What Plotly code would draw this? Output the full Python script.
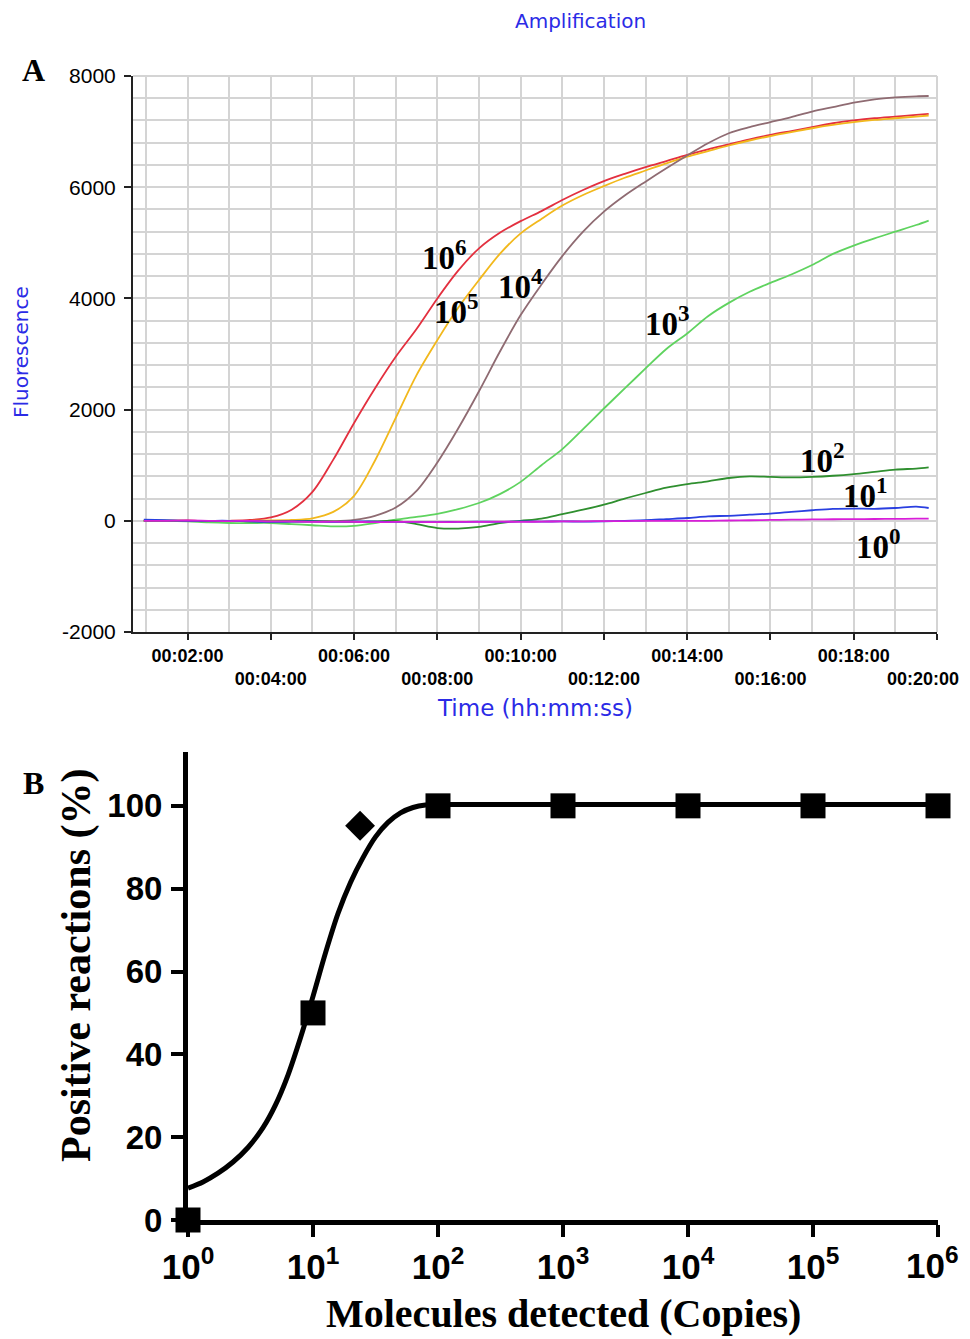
import plotly.graph_objects as go

# page is shown with an 8px body margin, so the figure is placed at (8, 8)
OFF = 8
W, H = 970 - OFF, 1339 - OFF
RIGHT_EDGE = 961  # last visible pixel column used for edge labels


def fx(px):
    return (px - OFF) / W


def fy(py):
    return 1 - (py - OFF) / H


# ---------------- Panel A data (time in minutes, fluorescence) ----------------
time_min = [0.95, 1.5, 2, 2.5, 3, 3.5, 4, 4.5, 5, 5.5, 6, 6.5, 7, 7.5, 8, 8.5, 9, 9.5,
            10, 10.5, 11, 11.5, 12, 12.5, 13, 13.5, 14, 14.5, 15, 15.5, 16, 16.5, 17,
            17.5, 18, 18.5, 19, 19.5, 19.8]

fl_1e6 = [10, 0, 5, -5, 0, 15, 60, 200, 520, 1100, 1760, 2380, 2950, 3450, 4000, 4500,
          4900, 5180, 5390, 5570, 5770, 5950, 6110, 6240, 6360, 6470, 6580, 6680, 6770,
          6860, 6940, 7010, 7080, 7150, 7200, 7240, 7270, 7300, 7320]
fl_1e5 = [0, 5, 0, 0, -5, 0, 5, 15, 45, 160, 450, 1080, 1850, 2620, 3250, 3830, 4330,
          4800, 5170, 5430, 5670, 5860, 6020, 6170, 6300, 6430, 6550, 6650, 6750, 6840,
          6920, 6990, 7060, 7120, 7170, 7210, 7240, 7270, 7290]
fl_1e4 = [0, 0, -5, 0, -10, -5, -10, -15, -15, -10, 15, 90, 240, 540, 1050, 1660, 2330,
          3040, 3700, 4250, 4760, 5200, 5560, 5850, 6100, 6340, 6570, 6790, 6970, 7080,
          7170, 7260, 7360, 7440, 7520, 7580, 7615, 7635, 7640]
fl_1e3 = [0, 0, -10, -30, -40, -40, -40, -60, -80, -100, -90, -40, 20, 70, 126, 210,
          320, 480, 700, 1000, 1290, 1650, 2020, 2380, 2740, 3090, 3370, 3680, 3920,
          4120, 4280, 4430, 4600, 4800, 4950, 5080, 5200, 5320, 5400]
fl_1e2 = [0, 0, 0, -5, 0, -10, -10, -5, 0, -10, -20, -10, 0, -60, -130, -140, -110,
          -40, 0, 40, 120, 200, 290, 400, 500, 595, 660, 710, 770, 800, 790, 780, 790,
          810, 840, 880, 920, 940, 960]
fl_1e1 = [20, 10, 0, 0, 0, -10, -20, -15, -10, -20, -10, -15, -20, -20, -25, -20, -15,
          -20, -10, -15, -10, -15, -10, 0, 10, 30, 50, 80, 90, 110, 130, 160, 190, 215,
          220, 215, 230, 255, 230]
fl_1e0 = [0, 0, 5, 0, -5, 0, -10, -10, -20, -15, -20, -25, -20, -20, -25, -20, -20,
          -15, -20, -15, -10, -10, -5, -5, 0, 0, 0, 0, 5, 10, 15, 20, 25, 28, 30, 32,
          35, 38, 40]

series_names = ["10^6", "10^5", "10^4", "10^3", "10^2", "10^1", "10^0"]
series_vals = [fl_1e6, fl_1e5, fl_1e4, fl_1e3, fl_1e2, fl_1e1, fl_1e0]
series_colors = ["#e3303f", "#f2b81c", "#8f6b72", "#5fd35f", "#2f8f2f", "#2a3fe0", "#d81ed8"]

label_text = ["10<sup>6</sup>", "10<sup>5</sup>", "10<sup>4</sup>", "10<sup>3</sup>",
              "10<sup>2</sup>", "10<sup>1</sup>", "10<sup>0</sup>"]
label_t = [8.18, 8.47, 9.99, 13.52, 17.25, 18.28, 18.59]
label_v = [4775, 3802, 4253, 3586, 1135, 505, -414]

time_ticks = [2, 4, 6, 8, 10, 12, 14, 16, 18, 20]
time_tick_text = ["00:02:00", "00:04:00", "00:06:00", "00:08:00", "00:10:00",
                  "00:12:00", "00:14:00", "00:16:00", "00:18:00", "00:20:00"]
fl_ticks = [-2000, 0, 2000, 4000, 6000, 8000]
fl_tick_text = ["-2000", "0", "2000", "4000", "6000", "8000"]

# ---------------- Panel B data ----------------
copies = [1, 10, 100, 1000, 10000, 100000, 1000000]
positive_pct = [0, 50, 100, 100, 100, 100, 100]
diamond_copies = [23.8]
diamond_pct = [95.2]
fit_log_copies = [0.0, 0.12, 0.24, 0.36, 0.48, 0.60, 0.70, 0.80, 0.90, 1.00, 1.10,
                  1.20, 1.30, 1.40, 1.50, 1.60, 1.70, 1.80, 1.90, 2.0, 3.0, 4.0, 5.0, 6.0]
fit_pct = [7.7, 9.2, 11.3, 14.0, 17.5, 22.3, 27.8, 35.0, 44.0, 54.0, 64.5, 74.0, 81.5,
           87.5, 92.5, 96.0, 98.3, 99.6, 100.2, 100.3, 100.3, 100.3, 100.3, 100.3]
b_xticks = [1, 10, 100, 1000, 10000, 100000, 1000000]
b_xtick_text = ["10<sup>%d</sup>" % i for i in range(7)]
b_yticks = [0, 20, 40, 60, 80, 100]

fig = go.Figure()

for name, vals, col in zip(series_names, series_vals, series_colors):
    fig.add_trace(go.Scatter(x=time_min, y=vals, mode="lines", name=name,
                             line=dict(color=col, width=1.8, shape="spline", smoothing=0.9),
                             xaxis="x", yaxis="y", showlegend=False))

fig.add_trace(go.Scatter(x=[10 ** v for v in fit_log_copies], y=fit_pct, mode="lines",
                         line=dict(color="black", width=5, shape="spline", smoothing=0.8),
                         xaxis="x2", yaxis="y2", showlegend=False, cliponaxis=False))
fig.add_trace(go.Scatter(x=copies, y=positive_pct, mode="markers",
                         marker=dict(symbol="square", size=25, color="black"),
                         xaxis="x2", yaxis="y2", showlegend=False, cliponaxis=False))
fig.add_trace(go.Scatter(x=diamond_copies, y=diamond_pct, mode="markers",
                         marker=dict(symbol="diamond", size=23, color="black"),
                         xaxis="x2", yaxis="y2", showlegend=False, cliponaxis=False))

grid_col = "#d4d4d4"
# alternate rows of time labels; the last one (at the right edge) is drawn as an annotation
ticktext_alt = [t if i % 2 == 0 else "<br>" + t for i, t in enumerate(time_tick_text)]
ticktext_alt[-1] = ""
b_ticktext_axis = list(b_xtick_text)
b_ticktext_axis[-1] = ""

tick_font_a = dict(family="Liberation Sans", size=18, color="black", weight="bold")

fig.update_layout(
    width=W, height=H, margin=dict(l=0, r=0, t=0, b=0, autoexpand=False),
    paper_bgcolor="white", plot_bgcolor="white",
    xaxis=dict(domain=[fx(133), fx(937)], range=[0.69, 20], anchor="y", automargin=False,
               tickmode="array", tickvals=time_ticks, ticktext=ticktext_alt,
               ticklabeloverflow="allow",
               ticks="outside", ticklen=6, tickwidth=2, tickcolor="#222",
               showline=True, linecolor="#222", linewidth=2,
               showgrid=True, gridcolor=grid_col, gridwidth=1.5, zeroline=False,
               minor=dict(tickmode="array", tickvals=list(range(1, 20)), showgrid=True,
                          gridcolor=grid_col, gridwidth=1.5, ticks=""),
               tickfont=tick_font_a),
    yaxis=dict(domain=[fy(632), fy(76)], range=[-2000, 8000], anchor="x",
               automargin=False, ticklabeloverflow="allow",
               tickmode="array", tickvals=fl_ticks, ticktext=fl_tick_text,
               ticks="outside", ticklen=7, tickwidth=2, tickcolor="#222",
               showline=True, linecolor="#222", linewidth=2,
               showgrid=True, gridcolor=grid_col, gridwidth=1.5, zeroline=False,
               minor=dict(dtick=400, tick0=0, showgrid=True, gridcolor=grid_col,
                          gridwidth=1.5, ticks=""),
               ticklabelstandoff=4,
               tickfont=dict(family="Liberation Sans", size=21, color="black")),
    xaxis2=dict(domain=[fx(188), fx(938)], type="log", range=[0, 6], anchor="y2",
                automargin=False, ticklabeloverflow="allow",
                tickmode="array", tickvals=b_xticks, ticktext=b_ticktext_axis,
                ticks="outside", ticklen=12, tickwidth=4, tickcolor="black",
                showline=True, linecolor="black", linewidth=5,
                showgrid=False, zeroline=False,
                tickfont=dict(family="Liberation Sans", size=35, color="black", weight="bold")),
    yaxis2=dict(domain=[fy(1220), fy(752)], range=[0, 113], anchor="x2",
                automargin=False, ticklabeloverflow="allow",
                tickmode="array", tickvals=b_yticks,
                ticks="outside", ticklen=12, tickwidth=4, tickcolor="black",
                showline=True, linecolor="black", linewidth=5,
                showgrid=False, zeroline=False, ticklabelstandoff=2,
                tickfont=dict(family="Liberation Sans", size=33, color="black", weight="bold")),
)

# light border on top/right of panel A
fig.add_shape(type="line", xref="x domain", yref="y domain", x0=0, x1=1, y0=1, y1=1,
              line=dict(color=grid_col, width=2))
fig.add_shape(type="line", xref="x domain", yref="y domain", x0=1, x1=1, y0=0, y1=1,
              line=dict(color=grid_col, width=2))

# curve labels panel A
for txt, tx, vy in zip(label_text, label_t, label_v):
    fig.add_annotation(x=tx, y=vy, xref="x", yref="y", text=txt, showarrow=False,
                       font=dict(family="Liberation Serif", size=33, color="black", weight="bold"))


def pa(text, px, py, size, color="black", family="Liberation Sans", angle=0, weight="normal",
       xanchor="center"):
    fig.add_annotation(x=fx(px), y=fy(py), xref="paper", yref="paper", text=text,
                       showarrow=False, textangle=angle,
                       font=dict(family=family, size=size, color=color, weight=weight),
                       xanchor=xanchor, yanchor="middle")


blue = "#2b2be6"
pa(time_tick_text[-1], RIGHT_EDGE, 679, 18, "black", "Liberation Sans", weight="bold",
   xanchor="right")
pa(b_xtick_text[-1], RIGHT_EDGE, 1263, 35, "black", "Liberation Sans", weight="bold",
   xanchor="right")
pa("Amplification", 580, 21, 20, blue, "DejaVu Sans")
pa("Fluorescence", 21, 352, 20, blue, "DejaVu Sans", -90)
pa("Time (hh:mm:ss)", 535, 708, 23, blue, "DejaVu Sans")
pa("A", 33, 70, 32, "black", "Liberation Serif", weight="bold")
pa("B", 33, 783, 32, "black", "Liberation Serif", weight="bold")
pa("Positive reactions (%)", 76, 966, 42, "black", "Liberation Serif", -90, "bold")
pa("Molecules detected (Copies)", 563, 1313, 40, "black", "Liberation Serif", weight="bold")

fig.write_html("out.html")
